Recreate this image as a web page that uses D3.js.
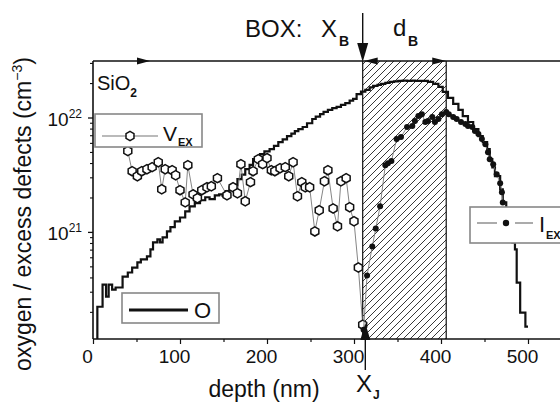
<!DOCTYPE html>
<html><head><meta charset="utf-8">
<script src="https://cdn.jsdelivr.net/npm/d3@7"></script>
<style>body{margin:0;background:#fff}svg{display:block}text{font-family:"Liberation Sans",Arial,Helvetica,sans-serif;fill:#111}</style>
</head><body><svg id="c" width="560" height="404"></svg>
<script>
// ---- data (depth in nm, concentration in cm^-3) ----
const oDepth = [4,5,11,15,18,22,26,31,34,40,45,51,55,62,66,69,74,77,80,85,89,94,100,106,111,117,123,129,134,140,145,149,152,157,162,166,171,175,180,184,188,192,197,203,208,213,218,223,228,232,236,241,246,252,256,261,265,270,275,280,285,290,295,299,303,308,313,318,322,327,331,336,341,346,351,356,361,366,370,375,379,385,391,397,402,408,414,420,425,431,437,443,448,453,456,459,462,468,471,475,478,482,485,487,491,497,500];
const oValue = [1e20,2.24e20,3.5e20,2.75e20,3.5e20,3.16e20,3.3e20,3.3e20,4.11e20,4.46e20,4.93e20,5.46e20,5.8e20,6.16e20,7.1e20,8.17e20,8.68e20,8.17e20,9.04e20,1.02e21,1.11e21,1.25e21,1.35e21,1.53e21,1.69e21,1.8e21,1.91e21,2.03e21,1.95e21,2.11e21,2.15e21,2.08e21,2.3e21,2.48e21,2.6e21,2.92e21,3.2e21,3.57e21,3.9e21,4.37e21,4.5e21,4.83e21,5.1e21,5.35e21,5.7e21,6.16e21,6.5e21,6.95e21,7.3e21,7.69e21,8.0e21,8.34e21,9.0e21,9.8e21,1.03e22,1.08e22,1.13e22,1.18e22,1.22e22,1.25e22,1.3e22,1.35e22,1.42e22,1.47e22,1.62e22,1.7e22,1.76e22,1.85e22,1.91e22,1.95e22,1.99e22,2.03e22,2.07e22,2.09e22,2.11e22,2.12e22,2.11e22,2.12e22,2.11e22,2.11e22,2.11e22,2.07e22,1.99e22,1.87e22,1.69e22,1.5e22,1.33e22,1.18e22,1.04e22,9.23e21,8.01e21,6.95e21,6.16e21,5.35e21,4.37e21,3.7e21,3.1e21,2.38e21,1.83e21,1.44e21,1.06e21,8.17e20,7.1e20,3.64e20,1.99e20,1.5e20,1.5e20];

const vDepth = [40,45,51,56,62,68,75,79,83,91,95,100,106,109,115,120,125,131,136,143,154,161,166,170,175,181,184,190,195,200,205,209,215,221,225,230,235,240,244,249,255,260,266,270,276,281,285,291,295,300,305,310];
const vValue = [5.14e21,3.43e21,3.1e21,3.43e21,3.57e21,3.72e21,4.11e21,2.38e21,3.57e21,3.5e21,3.16e21,2.34e21,1.83e21,3.87e21,2.15e21,1.99e21,2.34e21,2.48e21,2.53e21,2.98e21,2.11e21,2.48e21,2.2e21,3.95e21,1.87e21,2.75e21,3.43e21,4.37e21,3.95e21,4.46e21,3.5e21,3.43e21,3.64e21,3.72e21,3.1e21,4.11e21,2.07e21,2.75e21,2.48e21,2.48e21,1.02e21,1.56e21,2.8e21,3.5e21,1.62e21,1.13e21,2.8e21,2.98e21,1.66e21,1.25e21,4.93e20,1.56e20];

const iDepth = [311,315,321,325,330,336,339,343,349,354,361,367,370,374,378,382,385,390,393,397,401,406,409,414,418,423,428,431,436,439,443,447,451,454,456,460,464,468,470,471];
const iValue = [1.41e20,4.2e20,7.54e20,1.08e21,1.69e21,3.87e21,4.03e21,4.2e21,6.54e21,6.81e21,8.34e21,8.51e21,9.42e21,1.04e22,1.08e22,9.23e21,9.42e21,1.02e22,9.23e21,9.8e21,1.08e22,1.13e22,1.08e22,1.02e22,9.8e21,9.23e21,8.85e21,8.51e21,8.34e21,7.69e21,7.24e21,6.54e21,5.91e21,5.03e21,4.37e21,3.95e21,3.23e21,2.69e21,2.24e21,1.83e21];

const xTickValues = [0,100,200,300,400,500];
const xMinorValues = [50,150,250,350,450,550];
const yTickExps = [21,22];
const boxStart = 310, boxEnd = 406, junctionDepth = 313;

// ---- layout ----
const svg = d3.select("#c");
const L = 93, B = 339, T = 61;
const x = d3.scaleLinear().domain([0, 550]).range([L, L + 550 * 0.87]);
const y = d3.scaleLog().domain([1.17e20, 3.15e22]).range([B, T]);

const defs = svg.append("defs");
const pat = defs.append("pattern").attr("id","hatch").attr("patternUnits","userSpaceOnUse")
  .attr("width",7).attr("height",7);
pat.append("path").attr("d","M-1,1 l2,-2 M0,7 l7,-7 M6,8 l2,-2").attr("stroke","#222").attr("stroke-width",0.9);
defs.append("clipPath").attr("id","clip").append("rect")
  .attr("x",L).attr("y",T).attr("width",600).attr("height",B-T);

// hatched BOX region
svg.append("rect").attr("x",x(boxStart)).attr("y",T).attr("width",x(boxEnd)-x(boxStart)).attr("height",B-T)
  .attr("fill","url(#hatch)");
[boxStart, boxEnd].forEach(d => svg.append("line").attr("x1",x(d)).attr("x2",x(d)).attr("y1",T).attr("y2",B)
  .attr("stroke","#111").attr("stroke-width",1.2));

const g = svg.append("g").attr("clip-path","url(#clip)");

// O profile (staircase)
const oData = oDepth.map((d,i)=>[d,oValue[i]]);
g.append("path").datum(oData)
  .attr("d", d3.line().x(d=>x(d[0])).y(d=>y(d[1])).curve(d3.curveStepAfter))
  .attr("fill","none").attr("stroke","#111").attr("stroke-width",2.2);

// V_EX
const vData = vDepth.map((d,i)=>[d,vValue[i]]);
g.append("path").datum(vData).attr("d", d3.line().x(d=>x(d[0])).y(d=>y(d[1])))
  .attr("fill","none").attr("stroke","#777").attr("stroke-width",0.9);
function hexPath(r){
  const pts = d3.range(6).map(k=>{const a=Math.PI/3*k - Math.PI/2; return [r*Math.cos(a), r*Math.sin(a)];});
  return "M" + pts.map(p=>p.join(",")).join("L") + "Z";
}
g.selectAll(".v").data(vData).join("path").attr("class","v")
  .attr("d",hexPath(4.6)).attr("transform",d=>`translate(${x(d[0])},${y(d[1])})`)
  .attr("fill","#fff").attr("stroke","#111").attr("stroke-width",1.5);

// I_EX
const iData = iDepth.map((d,i)=>[d,iValue[i]]);
g.append("path").datum(iData).attr("d", d3.line().x(d=>x(d[0])).y(d=>y(d[1])))
  .attr("fill","none").attr("stroke","#777").attr("stroke-width",0.9);
g.selectAll(".i").data(iData).join("circle").attr("class","i")
  .attr("cx",d=>x(d[0])).attr("cy",d=>y(d[1])).attr("r",3).attr("fill","#111");

// axes
const xAxis = svg.append("g").attr("transform",`translate(0,${B})`)
  .call(d3.axisBottom(x).tickValues(xTickValues).tickSize(5).tickFormat(""));
xAxis.select(".domain").remove();
svg.append("g").attr("transform",`translate(0,${B})`)
  .call(d3.axisBottom(x).tickValues(xMinorValues).tickSize(3).tickFormat(""))
  .select(".domain").remove();
svg.selectAll(".tick line").attr("stroke","#111").attr("stroke-width",1.2);
svg.append("line").attr("x1",L).attr("x2",560).attr("y1",B).attr("y2",B).attr("stroke","#111").attr("stroke-width",1.6);
xTickValues.forEach(t => svg.append("text").attr("x",x(t)-5.5).attr("y",363).attr("text-anchor","middle")
  .attr("font-size",19).text(t));

// y axis
const yMinor = y.ticks().filter(v => Math.abs(Math.log10(v) - Math.round(Math.log10(v))) > 1e-6);
yMinor.forEach(v => svg.append("line").attr("x1",L-3).attr("x2",L).attr("y1",y(v)).attr("y2",y(v)).attr("stroke","#111").attr("stroke-width",1.1));
yTickExps.forEach(e => {
  const v = Math.pow(10,e);
  svg.append("line").attr("x1",L-5).attr("x2",L).attr("y1",y(v)).attr("y2",y(v)).attr("stroke","#111").attr("stroke-width",1.3);
  const t = svg.append("text").attr("x",82).attr("y",y(v)+8).attr("text-anchor","end").attr("font-size",19);
  t.append("tspan").text("10");
  t.append("tspan").attr("dy",-8).attr("font-size",12).text(e);
});
svg.append("line").attr("x1",L).attr("x2",L).attr("y1",T).attr("y2",B).attr("stroke","#111").attr("stroke-width",1.6);
// top line
svg.append("line").attr("x1",L).attr("x2",560).attr("y1",T).attr("y2",T).attr("stroke","#111").attr("stroke-width",1.4);

// arrows
function tri(pts){ svg.append("path").attr("d","M"+pts.map(p=>p.join(",")).join("L")+"Z").attr("fill","#111"); }
tri([[150,T],[137,T-3.5],[137,T+3.5]]);
tri([[x(boxStart)+1.5,T],[x(boxStart)+15,T-3.5],[x(boxStart)+15,T+3.5]]);
tri([[x(boxEnd),T],[x(boxEnd)-14,T-3.5],[x(boxEnd)-14,T+3.5]]);
svg.append("line").attr("x1",x(boxStart)).attr("x2",x(boxStart)).attr("y1",13).attr("y2",46).attr("stroke","#111").attr("stroke-width",1.4);
tri([[x(boxStart),T+1],[x(boxStart)-5.5,43],[x(boxStart)+5.5,43]]);
const xj = x(junctionDepth);
svg.append("line").attr("x1",xj).attr("x2",xj).attr("y1",330).attr("y2",370).attr("stroke","#111").attr("stroke-width",1.4);
tri([[xj,323],[xj-5,B+1],[xj+5,B+1]]);

// annotation texts
svg.append("text").attr("x",245).attr("y",37).attr("font-size",24).text("BOX:");
svg.append("text").attr("x",321).attr("y",37).attr("font-size",24).text("X");
svg.append("text").attr("x",339).attr("y",46).attr("font-size",14).attr("font-weight","bold").text("B");
svg.append("text").attr("x",393).attr("y",36).attr("font-size",24).text("d");
svg.append("text").attr("x",408).attr("y",46).attr("font-size",14).attr("font-weight","bold").text("B");
svg.append("text").attr("x",356).attr("y",392).attr("font-size",24).text("X");
svg.append("text").attr("x",373).attr("y",399).attr("font-size",12).attr("font-weight","bold").text("J");
const si = svg.append("text").attr("x",97).attr("y",90).attr("font-size",20);
si.append("tspan").text("SiO");
si.append("tspan").attr("dy",7).attr("font-size",12).attr("font-weight","bold").text("2");

// axis titles
svg.append("text").attr("x",264).attr("y",397).attr("text-anchor","middle").attr("font-size",23).text("depth (nm)");
const yl = svg.append("text").attr("transform","translate(31,214) rotate(-90)").attr("text-anchor","middle").attr("font-size",23);
yl.append("tspan").text("oxygen / excess defects (cm");
yl.append("tspan").attr("dy",-9).attr("font-size",14).text("−3");
yl.append("tspan").attr("dy",9).text(")");

// legends
function box(x0,y0,w,h){ svg.append("rect").attr("x",x0).attr("y",y0).attr("width",w).attr("height",h)
  .attr("fill","#fff").attr("stroke","#888").attr("stroke-width",1.6); }
box(95,114,107,33);
svg.append("line").attr("x1",102).attr("x2",158).attr("y1",136).attr("y2",136).attr("stroke","#777").attr("stroke-width",1.1);
svg.append("path").attr("d",hexPath(4.6)).attr("transform","translate(130,136)").attr("fill","#fff").attr("stroke","#111").attr("stroke-width",1.5);
svg.append("text").attr("x",163).attr("y",141).attr("font-size",21).text("V");
svg.append("text").attr("x",178).attr("y",146).attr("font-size",11).attr("font-weight","bold").text("EX");

box(122,293,97,30);
svg.append("line").attr("x1",129).attr("x2",188).attr("y1",310).attr("y2",310).attr("stroke","#111").attr("stroke-width",3);
svg.append("text").attr("x",194).attr("y",318).attr("font-size",22).text("O");

box(470,207,110,36);
svg.append("line").attr("x1",477).attr("x2",497).attr("y1",223).attr("y2",223).attr("stroke","#666").attr("stroke-width",1.1);
svg.append("line").attr("x1",515).attr("x2",533).attr("y1",223).attr("y2",223).attr("stroke","#666").attr("stroke-width",1.1);
svg.append("circle").attr("cx",506).attr("cy",223).attr("r",3.2).attr("fill","#111");
svg.append("text").attr("x",539).attr("y",232).attr("font-size",22).text("I");
svg.append("text").attr("x",546).attr("y",239).attr("font-size",11).attr("font-weight","bold").text("EX");
</script></body></html>
